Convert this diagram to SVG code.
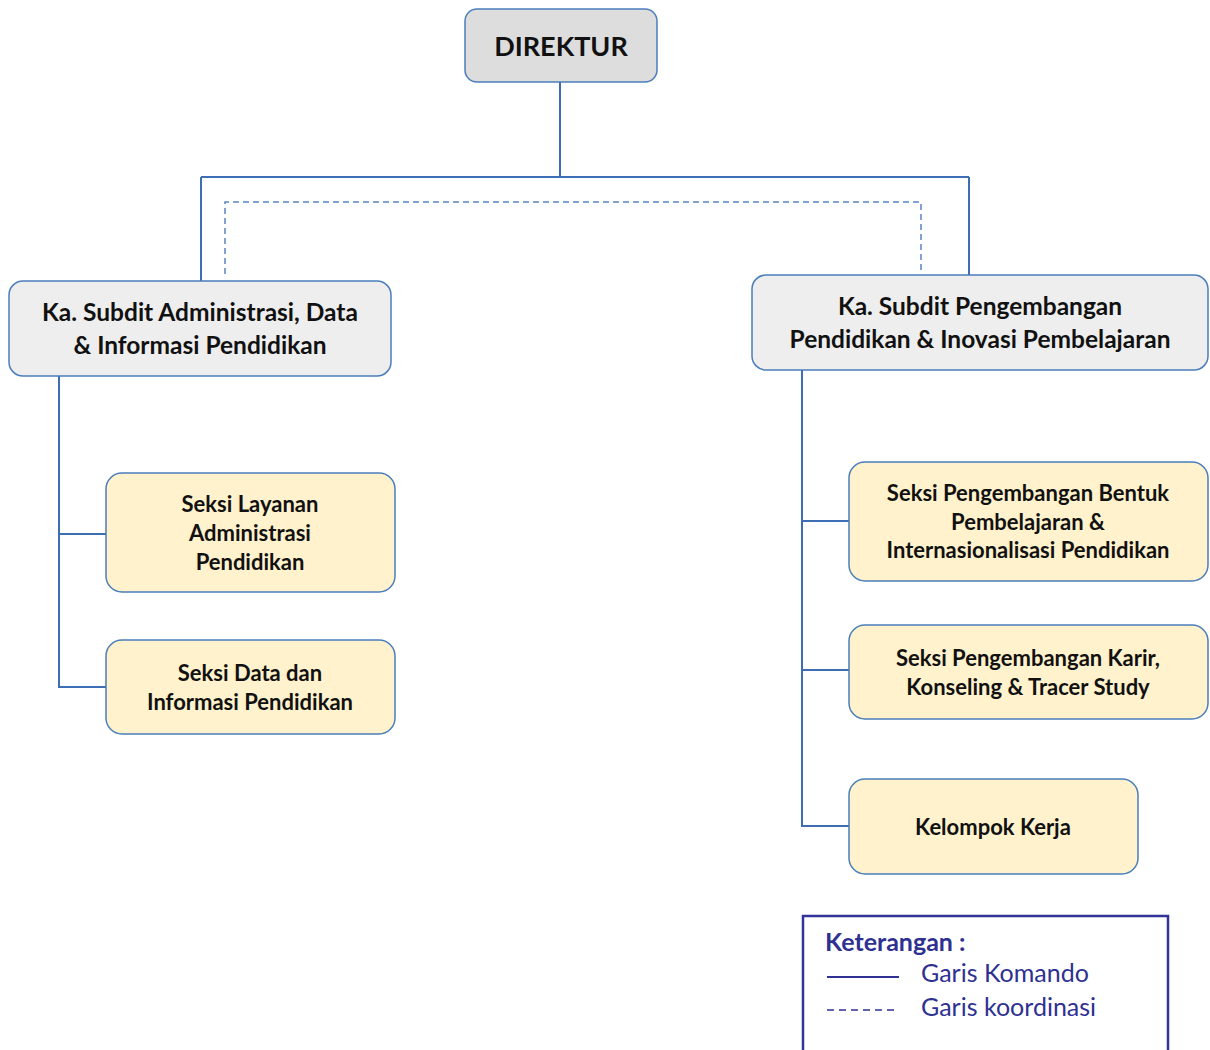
<svg xmlns="http://www.w3.org/2000/svg" width="1210" height="1050" viewBox="0 0 1210 1050">
<style>
.box{stroke:#4a7ebb;stroke-width:1.5}
.gray{fill:#dddddd}
.light{fill:#eeeeee}
.yel{fill:#fff2cc}
.t{font-family:Lato,"Open Sans","Liberation Sans",sans-serif;font-weight:bold;fill:#111;text-anchor:middle}
.s{font-size:22px}
.c{fill:none;stroke:#3d6db5;stroke-width:2}
.d{fill:none;stroke:#5a85c4;stroke-width:1.5;stroke-dasharray:6,4}
.lg{font-family:Lato,"Open Sans","Liberation Sans",sans-serif;fill:#2e3192;font-size:25px}
</style>
<rect width="1210" height="1050" fill="#ffffff"/>
<g id="connectors">
<path class="c" d="M560 82V177M201 177H969M201 177V281M969 177V275"/>
<path class="d" d="M225 274V202H921V274"/>
<path class="c" d="M59 376V687H106M59 534H106"/>
<path class="c" d="M802 370V826H849M802 521H849M802 670H849"/>
</g>
<g id="direktur">
<rect class="box gray" x="465" y="9" width="192" height="73" rx="12"/>
<text class="t" x="561" y="56" font-size="27">DIREKTUR</text>
</g>
<g id="subdit-admin">
<rect class="box light" x="9" y="281" width="382" height="95" rx="14"/>
<text class="t" x="200" y="321" font-size="24.5">Ka. Subdit Administrasi, Data</text>
<text class="t" x="200" y="354" font-size="24.5">&amp; Informasi Pendidikan</text>
</g>
<g id="subdit-pengembangan">
<rect class="box light" x="752" y="275" width="456" height="95" rx="14"/>
<text class="t" x="980" y="315" font-size="24.5">Ka. Subdit Pengembangan</text>
<text class="t" x="980" y="348" font-size="24.5">Pendidikan &amp; Inovasi Pembelajaran</text>
</g>
<g id="seksi-layanan">
<rect class="box yel" x="106" y="473" width="289" height="119" rx="16"/>
<text class="t s" x="250" y="512">Seksi Layanan</text>
<text class="t s" x="250" y="541">Administrasi</text>
<text class="t s" x="250" y="570">Pendidikan</text>
</g>
<g id="seksi-data">
<rect class="box yel" x="106" y="640" width="289" height="94" rx="16"/>
<text class="t s" x="250" y="681">Seksi Data dan</text>
<text class="t s" x="250" y="710">Informasi Pendidikan</text>
</g>
<g id="seksi-bentuk">
<rect class="box yel" x="849" y="462" width="359" height="119" rx="16"/>
<text class="t s" x="1028" y="501">Seksi Pengembangan Bentuk</text>
<text class="t s" x="1028" y="530">Pembelajaran &amp;</text>
<text class="t s" x="1028" y="558">Internasionalisasi Pendidikan</text>
</g>
<g id="seksi-karir">
<rect class="box yel" x="849" y="625" width="359" height="94" rx="16"/>
<text class="t s" x="1028" y="666">Seksi Pengembangan Karir,</text>
<text class="t s" x="1028" y="695">Konseling &amp; Tracer Study</text>
</g>
<g id="kelompok-kerja">
<rect class="box yel" x="849" y="779" width="289" height="95" rx="16"/>
<text class="t s" x="993" y="835">Kelompok Kerja</text>
</g>
<g id="legend">
<path d="M803 1052V916H1168V1052" fill="none" stroke="#33339a" stroke-width="2.5"/>
<text class="lg" x="825" y="951" font-weight="bold">Keterangan :</text>
<line x1="827" y1="977" x2="899" y2="977" stroke="#2e3192" stroke-width="2"/>
<text class="lg" x="921" y="982">Garis Komando</text>
<line x1="827" y1="1010" x2="899" y2="1010" stroke="#2e3192" stroke-width="1.3" stroke-dasharray="7,5"/>
<text class="lg" x="921" y="1016">Garis koordinasi</text>
</g>
</svg>
